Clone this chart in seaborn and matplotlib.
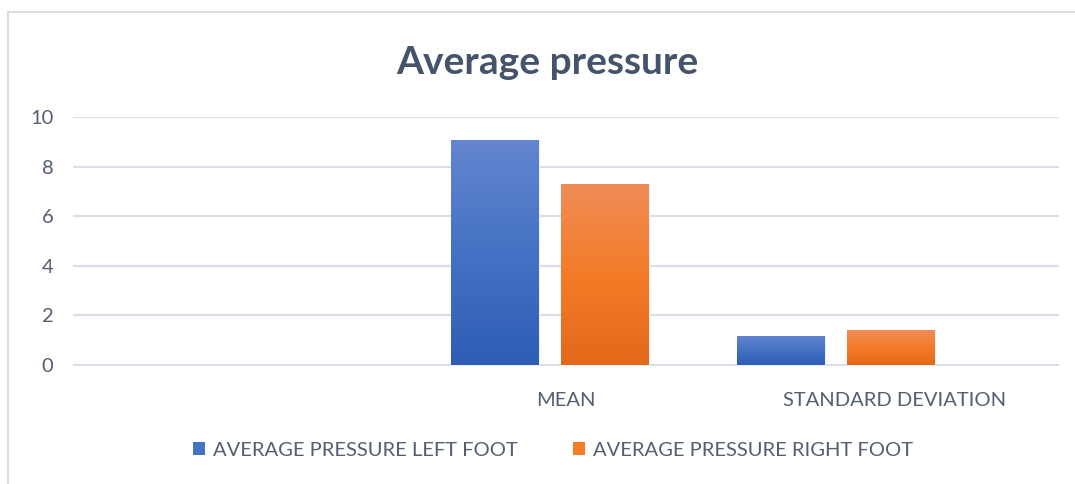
import numpy as np
import pandas as pd
import matplotlib
matplotlib.use("Agg")
import matplotlib.pyplot as plt
from matplotlib.patches import Patch, Rectangle
from matplotlib.colors import LinearSegmentedColormap, to_rgba
import seaborn as sns

# ---- data ----
categories = ["MEAN", "STANDARD DEVIATION"]
axis_slots = ["", "MEAN", "STANDARD DEVIATION"]
series_names = ["AVERAGE PRESSURE LEFT FOOT", "AVERAGE PRESSURE RIGHT FOOT"]
left_foot = [9.08, 1.18]
right_foot = [7.30, 1.40]
y_ticks = [0, 2, 4, 6, 8, 10]
title = "Average pressure"

df = pd.DataFrame({
    "category": categories * 2,
    "series": [series_names[0]] * 2 + [series_names[1]] * 2,
    "value": left_foot + right_foot,
})

mid_colors = {series_names[0]: "#4472C4", series_names[1]: "#F47C28"}
grads = {
    series_names[0]: ["#6485CF", "#4472C4", "#2D5DB5"],
    series_names[1]: ["#F08C57", "#F47C28", "#E3691A"],
}

sns.set_theme(style="white")
plt.rcParams["font.family"] = ["Lato", "DejaVu Sans"]

W, H = 1075, 484
fig = plt.figure(figsize=(W / 100, H / 100), dpi=100)
fig.patch.set_facecolor("white")

y_lo, y_hi = -0.03, 10.03
px_per_unit = (365 - 117.3) / 10
ax_bottom_px = 365 + 0.03 * px_per_unit
ax_top_px = 117.3 - 0.03 * px_per_unit
ax = fig.add_axes([73 / W, 1 - ax_bottom_px / H, (1059 - 73) / W, (ax_bottom_px - ax_top_px) / H])

sns.barplot(data=df, x="category", y="value", hue="series", order=categories,
            hue_order=series_names, palette=mid_colors, width=0.769, gap=0.2,
            legend=False, ax=ax, zorder=3, linewidth=0)

xlim = (-1.668, 1.78)
ax.set_xlim(*xlim)
ax.set_ylim(y_lo, y_hi)

# gradient fills clipped to each seaborn bar
for p in list(ax.patches):
    h = p.get_height()
    if not np.isfinite(h) or h <= 0:
        continue
    fc = p.get_facecolor()
    key = min(series_names, key=lambda s: np.sum((np.array(to_rgba(mid_colors[s])) - np.array(fc)) ** 2))
    cmap = LinearSegmentedColormap.from_list("g", grads[key][::-1])
    x0 = p.get_x()
    w = p.get_width()
    grad = np.linspace(0, 1, 256).reshape(-1, 1)
    im = ax.imshow(grad, extent=(x0, x0 + w, p.get_y(), p.get_y() + h), origin="lower",
                   cmap=cmap, aspect="auto", zorder=3.5, interpolation="bilinear")
    im.set_clip_path(p)
    p.set_edgecolor("#EEF1F8")
    p.set_linewidth(0.8)
ax.set_xlim(*xlim)
ax.set_ylim(y_lo, y_hi)

# grid
ax.set_yticks(y_ticks)
ax.yaxis.grid(True, color="#D9DEE7", linewidth=1.6, zorder=0)
ax.xaxis.grid(False)
for s in ax.spines.values():
    s.set_visible(False)

tick_color = "#545F71"
ax.tick_params(axis="y", length=0, pad=14, labelsize=14.5, labelcolor=tick_color)

# category labels at evenly spaced slot centres across the axis
span = xlim[1] - xlim[0]
slot_pos = [xlim[0] + (i + 0.5) * span / len(axis_slots) for i in range(len(axis_slots))]
ax.set_xticks(slot_pos[1:])
ax.set_xticklabels(axis_slots[1:])
ax.tick_params(axis="x", length=0, pad=19, labelsize=14.5, labelcolor=tick_color)
ax.set_xlabel("")
ax.set_ylabel("")

# title
fig.text(547 / W, 1 - 62 / H, title, ha="center", va="center", fontsize=28,
         fontweight="bold", color="#44546A")

# legend
handles = [Patch(facecolor=mid_colors[s], edgecolor="none", label=s) for s in series_names]
fig.legend(handles=handles, loc="center", bbox_to_anchor=(553 / W, 1 - 450 / H), ncol=2,
           frameon=False, fontsize=14.5, labelcolor=tick_color, handlelength=0.6,
           handleheight=0.6, handletextpad=0.4, columnspacing=2.7, borderpad=0)

# outer chart frame (clipped at right and bottom)
fig.patches.append(Rectangle((8 / W, -0.2), 2.0, 1 - 12 / H + 0.2, transform=fig.transFigure,
                             fill=False, edgecolor="#D9DCE1", linewidth=1.5))

fig.savefig("out.png", dpi=100, facecolor="white")
